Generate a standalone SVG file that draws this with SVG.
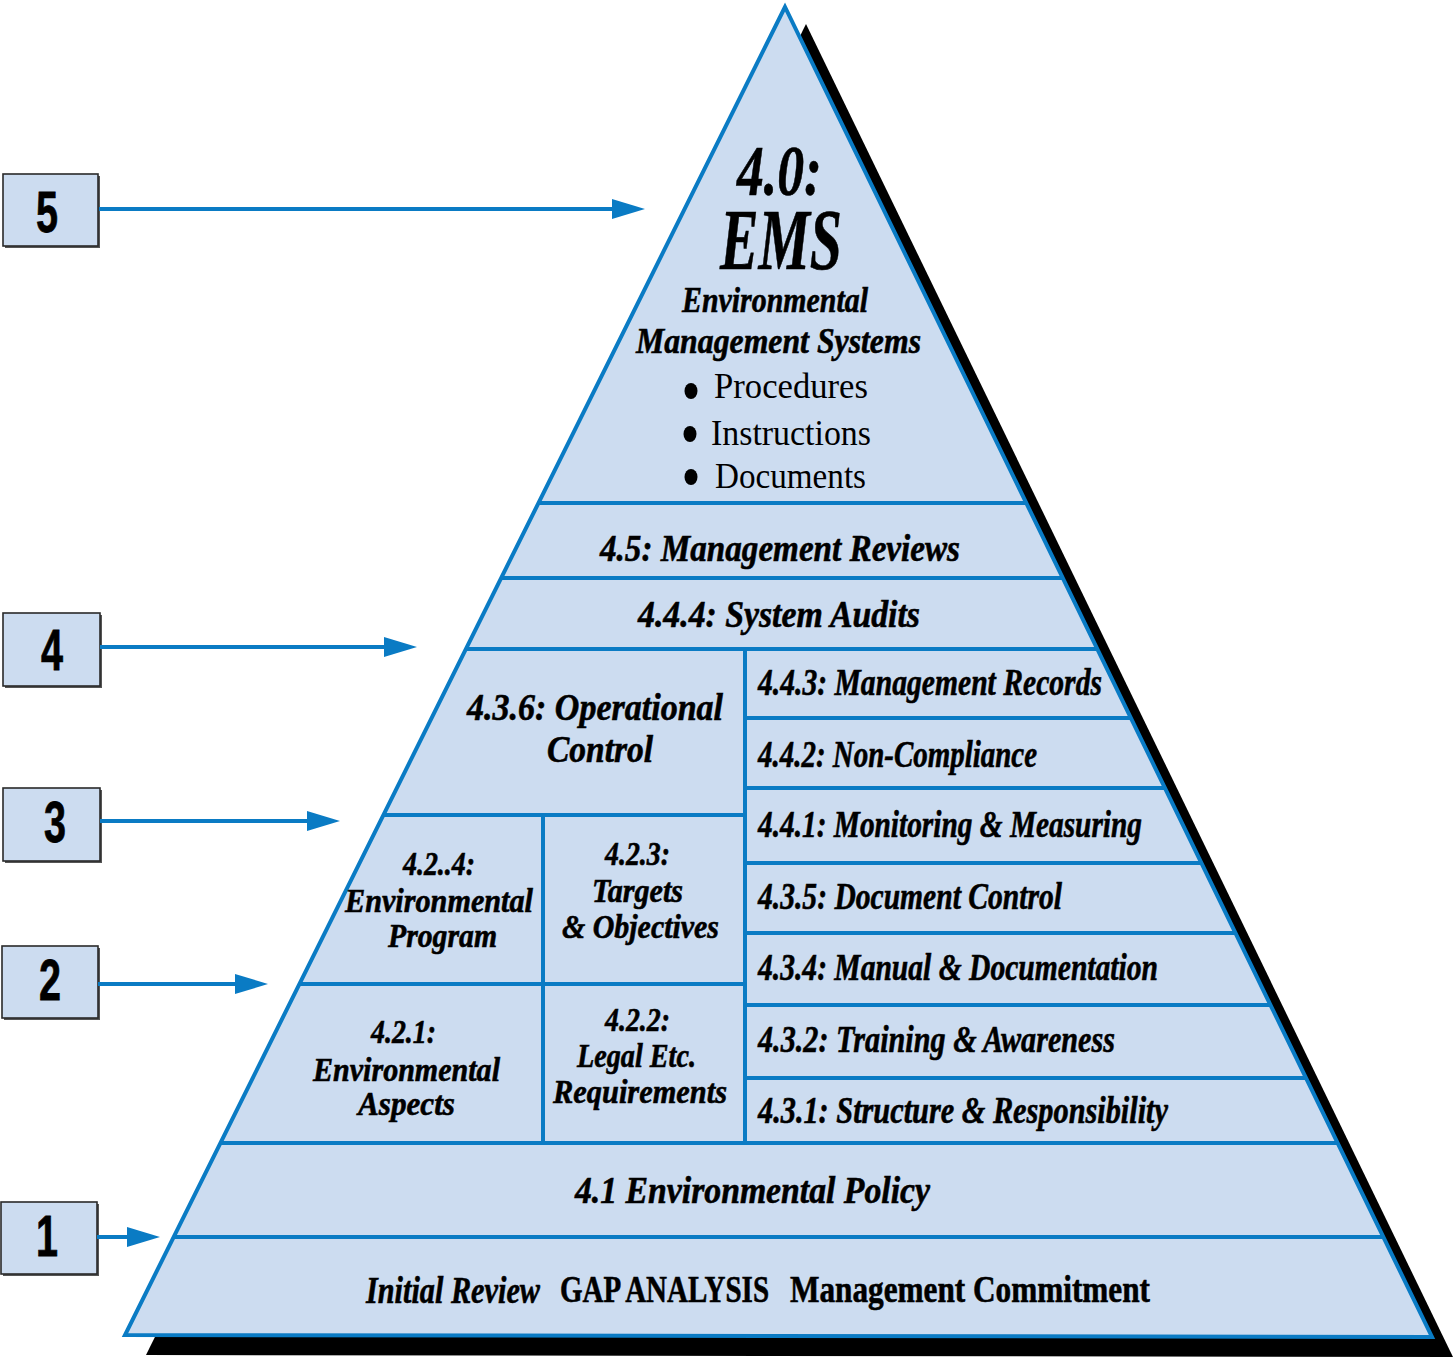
<svg xmlns="http://www.w3.org/2000/svg" width="1454" height="1357" viewBox="0 0 1454 1357">
<style>
.t{font-family:"Liberation Serif","Times New Roman",serif;font-weight:bold;font-style:italic;fill:#000;stroke:#000;stroke-width:0.6}
.u{font-family:"Liberation Serif","Times New Roman",serif;font-weight:bold;font-style:normal;fill:#000;stroke:#000;stroke-width:0.6}
.r{font-family:"Liberation Serif","Times New Roman",serif;font-weight:normal;font-style:normal;fill:#000}
.d{font-family:"Liberation Sans",Arial,sans-serif;font-weight:bold;font-size:58px;fill:#000;stroke:#000;stroke-width:0.8}
.s38{font-size:38px}
.s36{font-size:36px}
.s33{font-size:33px}
.ln{stroke:#0a7bc4;stroke-width:4;fill:none}
.box{fill:#ccdcf0;stroke:#2a2a2a;stroke-width:1.6}
.bsh{fill:#555}
.arr{stroke:#0a7bc4;stroke-width:4;fill:none;marker-end:url(#ah)}
</style>
<defs>
<marker id="ah" markerUnits="userSpaceOnUse" markerWidth="34" markerHeight="22" refX="23" refY="10" orient="auto">
<path d="M0,0 L33,10 L0,20 Z" fill="#0a7bc4"/>
</marker>
<clipPath id="pc"><polygon points="785,7 125,1335 1432,1337"/></clipPath>
</defs>

<g id="shadow"><polygon points="806,24 1453,1357 146,1355" fill="#000"/></g>

<g id="pyramid">
<polygon points="785,7 125,1335 1432,1337" fill="#ccdcf0"/>
<g clip-path="url(#pc)" class="ln">
<line x1="100" y1="503" x2="1440" y2="503"/>
<line x1="100" y1="578" x2="1440" y2="578"/>
<line x1="100" y1="649" x2="1440" y2="649"/>
<line x1="100" y1="1143" x2="1440" y2="1143"/>
<line x1="100" y1="1237" x2="1440" y2="1237"/>
<line x1="745" y1="718" x2="1440" y2="718"/>
<line x1="745" y1="788" x2="1440" y2="788"/>
<line x1="745" y1="863" x2="1440" y2="863"/>
<line x1="745" y1="933" x2="1440" y2="933"/>
<line x1="745" y1="1005" x2="1440" y2="1005"/>
<line x1="745" y1="1078" x2="1440" y2="1078"/>
<line x1="100" y1="815" x2="745" y2="815"/>
<line x1="100" y1="984" x2="745" y2="984"/>
<line x1="745" y1="649" x2="745" y2="1143"/>
<line x1="543" y1="815" x2="543" y2="1143"/>
</g>
<polygon points="785,7 125,1335 1432,1337" class="ln" stroke-width="4.5"/>
</g>

<g id="n-ems">
<text class="t" x="737" y="195" font-size="72" textLength="85" lengthAdjust="spacingAndGlyphs">4.0:</text>
<text class="t" x="720" y="269" font-size="86" textLength="122" lengthAdjust="spacingAndGlyphs">EMS</text>
<text class="t s36" x="682" y="312" textLength="186" lengthAdjust="spacingAndGlyphs">Environmental</text>
<text class="t s36" x="636" y="353" textLength="285" lengthAdjust="spacingAndGlyphs">Management Systems</text>
<ellipse cx="691" cy="391" rx="6.5" ry="8"/>
<ellipse cx="690" cy="434" rx="6.5" ry="8"/>
<ellipse cx="691" cy="477" rx="6.5" ry="8"/>
<text class="r s36" x="714" y="398" textLength="154" lengthAdjust="spacingAndGlyphs">Procedures</text>
<text class="r s36" x="711" y="445" textLength="160" lengthAdjust="spacingAndGlyphs">Instructions</text>
<text class="r s36" x="715" y="488" textLength="151" lengthAdjust="spacingAndGlyphs">Documents</text>
</g>

<g id="n-45"><text class="t s38" x="600" y="561" textLength="360" lengthAdjust="spacingAndGlyphs">4.5: Management Reviews</text></g>
<g id="n-444"><text class="t s38" x="638" y="627" textLength="282" lengthAdjust="spacingAndGlyphs">4.4.4: System Audits</text></g>
<g id="n-436">
<text class="t s38" x="467" y="720" textLength="256" lengthAdjust="spacingAndGlyphs">4.3.6: Operational</text>
<text class="t s38" x="547" y="762" textLength="106" lengthAdjust="spacingAndGlyphs">Control</text>
</g>
<g id="n-443"><text class="t s38" x="758" y="695" textLength="344" lengthAdjust="spacingAndGlyphs">4.4.3: Management Records</text></g>
<g id="n-442"><text class="t s38" x="758" y="767" textLength="279" lengthAdjust="spacingAndGlyphs">4.4.2: Non-Compliance</text></g>
<g id="n-441"><text class="t s38" x="758" y="837" textLength="384" lengthAdjust="spacingAndGlyphs">4.4.1: Monitoring &amp; Measuring</text></g>
<g id="n-435"><text class="t s38" x="758" y="909" textLength="304" lengthAdjust="spacingAndGlyphs">4.3.5: Document Control</text></g>
<g id="n-434"><text class="t s38" x="758" y="980" textLength="400" lengthAdjust="spacingAndGlyphs">4.3.4: Manual &amp; Documentation</text></g>
<g id="n-432"><text class="t s38" x="758" y="1052" textLength="357" lengthAdjust="spacingAndGlyphs">4.3.2: Training &amp; Awareness</text></g>
<g id="n-431"><text class="t s38" x="758" y="1123" textLength="410" lengthAdjust="spacingAndGlyphs">4.3.1: Structure &amp; Responsibility</text></g>

<g id="n-424">
<text class="t s33" x="403" y="875" textLength="72" lengthAdjust="spacingAndGlyphs">4.2..4:</text>
<text class="t s33" x="345" y="912" textLength="188" lengthAdjust="spacingAndGlyphs">Environmental</text>
<text class="t s33" x="388" y="947" textLength="109" lengthAdjust="spacingAndGlyphs">Program</text>
</g>
<g id="n-423">
<text class="t s33" x="605" y="865" textLength="65" lengthAdjust="spacingAndGlyphs">4.2.3:</text>
<text class="t s33" x="592" y="902" textLength="91" lengthAdjust="spacingAndGlyphs">Targets</text>
<text class="t s33" x="562" y="938" textLength="157" lengthAdjust="spacingAndGlyphs">&amp; Objectives</text>
</g>
<g id="n-421">
<text class="t s33" x="371" y="1043" textLength="65" lengthAdjust="spacingAndGlyphs">4.2.1:</text>
<text class="t s33" x="313" y="1081" textLength="187" lengthAdjust="spacingAndGlyphs">Environmental</text>
<text class="t s33" x="358" y="1115" textLength="97" lengthAdjust="spacingAndGlyphs">Aspects</text>
</g>
<g id="n-422">
<text class="t s33" x="605" y="1031" textLength="65" lengthAdjust="spacingAndGlyphs">4.2.2:</text>
<text class="t s33" x="577" y="1067" textLength="119" lengthAdjust="spacingAndGlyphs">Legal Etc.</text>
<text class="t s33" x="553" y="1103" textLength="174" lengthAdjust="spacingAndGlyphs">Requirements</text>
</g>
<g id="n-41"><text class="t s38" x="575" y="1203" textLength="355" lengthAdjust="spacingAndGlyphs">4.1 Environmental Policy</text></g>
<g id="n-base">
<text class="t s38" x="366" y="1303" textLength="174" lengthAdjust="spacingAndGlyphs">Initial Review</text>
<text class="u s38" x="560" y="1302" textLength="209" lengthAdjust="spacingAndGlyphs">GAP ANALYSIS</text>
<text class="u s38" x="790" y="1302" textLength="360" lengthAdjust="spacingAndGlyphs">Management Commitment</text>
</g>

<g id="box5"><rect class="bsh" x="5" y="176" width="95" height="72"/><rect class="box" x="3" y="174" width="95" height="72"/><text class="d" x="36" y="232" textLength="22" lengthAdjust="spacingAndGlyphs">5</text></g>
<g id="box4"><rect class="bsh" x="5" y="615" width="97" height="73"/><rect class="box" x="3" y="613" width="97" height="73"/><text class="d" x="41" y="670" textLength="22" lengthAdjust="spacingAndGlyphs">4</text></g>
<g id="box3"><rect class="bsh" x="5" y="790" width="97" height="73"/><rect class="box" x="3" y="788" width="97" height="73"/><text class="d" x="44" y="842" textLength="22" lengthAdjust="spacingAndGlyphs">3</text></g>
<g id="box2"><rect class="bsh" x="4" y="948" width="96" height="72"/><rect class="box" x="2" y="946" width="96" height="72"/><text class="d" x="39" y="1000" textLength="22" lengthAdjust="spacingAndGlyphs">2</text></g>
<g id="box1"><rect class="bsh" x="3" y="1204" width="96" height="72"/><rect class="box" x="1" y="1202" width="96" height="72"/><text class="d" x="36" y="1256" textLength="22" lengthAdjust="spacingAndGlyphs">1</text></g>

<g id="connectors">
<line class="arr" x1="99" y1="209" x2="635" y2="209"/>
<line class="arr" x1="100" y1="647" x2="407" y2="647"/>
<line class="arr" x1="100" y1="821" x2="330" y2="821"/>
<line class="arr" x1="98" y1="984" x2="258" y2="984"/>
<line class="arr" x1="97" y1="1237" x2="150" y2="1237"/>
</g>
</svg>
